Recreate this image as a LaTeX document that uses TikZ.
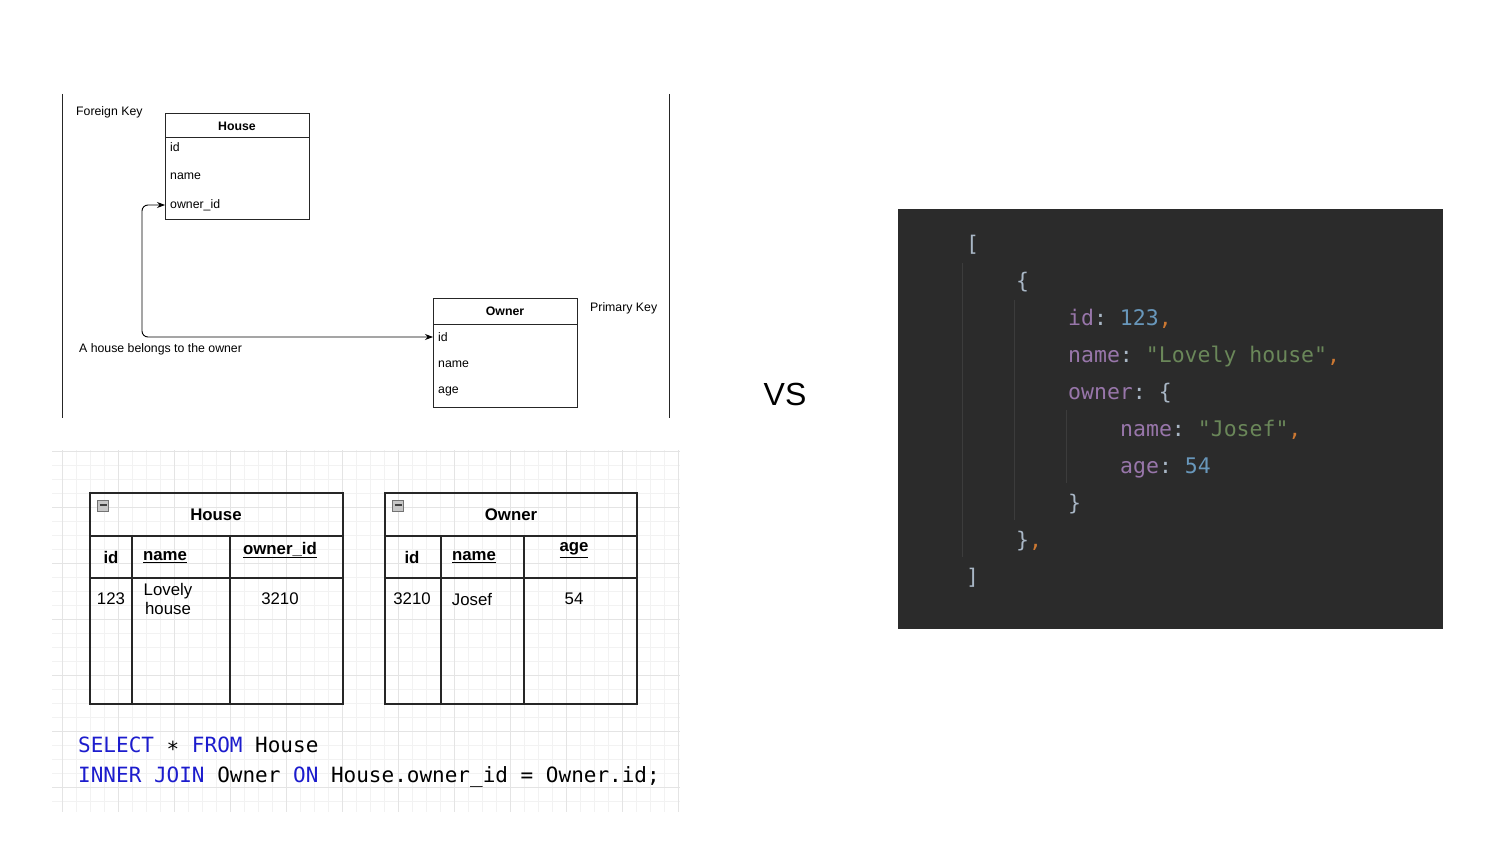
\documentclass[tikz,border=0pt]{standalone}
\usepackage{fontspec}
\setmainfont{Liberation Sans}
\newfontfamily\codefont{DejaVu Sans Mono}
\usetikzlibrary{arrows.meta}
\frenchspacing
\definecolor{gridminor}{RGB}{242,242,242}
\definecolor{gridmajor}{RGB}{228,228,228}
\definecolor{sqlblue}{RGB}{28,28,205}
\definecolor{codebg}{RGB}{43,43,43}
\definecolor{jbrace}{RGB}{169,183,198}
\definecolor{jkey}{RGB}{152,118,170}
\definecolor{jnum}{RGB}{104,151,187}
\definecolor{jstr}{RGB}{106,135,89}
\definecolor{jcomma}{RGB}{204,120,50}
\definecolor{jguide}{RGB}{60,60,60}
\newcommand{\jk}[1]{\textcolor{jkey}{#1}}
\newcommand{\jn}[1]{\textcolor{jnum}{#1}}
\newcommand{\js}[1]{\textcolor{jstr}{#1}}
\newcommand{\jc}{\textcolor{jcomma}{,}}
\newcommand{\kw}[1]{\textcolor{sqlblue}{#1}}
\tikzset{
  small/.style={inner sep=0pt, font=\fontsize{12.3}{14}\selectfont},
  lbl/.style={small, anchor=west},
  rowtxt/.style={small, anchor=west, inner xsep=5pt},
  erbox/.style={draw=black!85, line width=0.9pt, anchor=north west, inner sep=0pt, minimum width=144pt},
  sidebar/.style={draw=black!85, line width=1pt},
  fk/.style={draw=black, line width=0.9pt, {Stealth[length=8pt,width=6pt]}-{Stealth[length=8pt,width=6pt]}, rounded corners=6pt},
  tbl/.style={draw=black!85, line width=1.4pt},
  tbltxt/.style={inner sep=0pt, font=\fontsize{16.8}{19}\selectfont, align=center},
  tblhead/.style={tbltxt, font=\fontsize{16.8}{19}\selectfont\bfseries},
  minusbox/.style={draw=black!55, fill=black!22, minimum size=11pt, inner sep=0pt, line width=0.6pt},
  sql/.style={inner sep=0pt, anchor=base west, font=\codefont\fontsize{21}{25}\selectfont},
  json/.style={inner sep=0pt, anchor=base west, text=jbrace, font=\codefont\fontsize{21.5}{25}\selectfont},
  guide/.style={draw=jguide, line width=1pt}
}
\begin{document}
\begin{tikzpicture}[x=1pt,y=-1pt]
\useasboundingbox[fill=white] (0,0) rectangle (1496,864);

% ---------- top ER diagram ----------
\draw[sidebar] (62,94) -- (62,418);
\draw[sidebar] (669,94) -- (669,418);

\node[lbl] (fklbl) at (76,112) {Foreign Key};
\node[lbl] (pklbl) at (590,308) {Primary Key};
\node[lbl] (rel) at (79,349) {A house belongs to the owner};

\node[erbox, minimum height=106pt] (house) at (165,113) {};
\draw[erbox] (165,137) -- (309,137);
\node[small, font=\fontsize{12.3}{14}\selectfont\bfseries] (houset) at (237,126) {House};
\node[rowtxt] (hid) at (165,147) {id};
\node[rowtxt] (hname) at (165,176) {name};
\node[rowtxt] (hown) at (165,205) {owner\_id};

\node[erbox, minimum height=109pt] (owner) at (433,298) {};
\draw[erbox] (433,324) -- (577,324);
\node[small, font=\fontsize{12.3}{14}\selectfont\bfseries] (ownert) at (505,311) {Owner};
\node[rowtxt] (oid) at (433,337) {id};
\node[rowtxt] (oname) at (433,364) {name};
\node[rowtxt] (oage) at (433,391) {age};

\draw[fk] (oid.west) -| ([xshift=-23pt]hown.west) -- (hown.west);

% ---------- grid background ----------
\begin{scope}
\clip (52,450) rectangle (680,812);
\foreach \i in {0,...,44} \draw[gridminor, line width=0.8pt] ({62+14*\i},450) -- ({62+14*\i},812);
\foreach \j in {0,...,26} \draw[gridminor, line width=0.8pt] (52,{451+14*\j}) -- (680,{451+14*\j});
\foreach \i in {0,...,11} \draw[gridmajor, line width=0.8pt] ({62+56*\i},450) -- ({62+56*\i},812);
\foreach \j in {0,...,6} \draw[gridmajor, line width=0.8pt] (52,{451+56*\j}) -- (680,{451+56*\j});
\end{scope}

% ---------- House table ----------
\draw[tbl] (90,493) rectangle (343,704);
\draw[tbl] (90,536) -- (343,536);
\draw[tbl] (90,578) -- (343,578);
\draw[tbl] (132,536) -- (132,704);
\draw[tbl] (230,536) -- (230,704);
\node[minusbox] (hmin) at (103,506) {\textcolor{black!75}{\rule[2pt]{7pt}{1.6pt}}};
\node[tblhead] (ht) at (216,515) {House};
\node[tblhead] (hc1) at (111,557) {id};
\node[tblhead] (hc2) at (165,557) {\underline{name}};
\node[tblhead] (hc3) at (280,550) {\underline{owner\_id}};
\node[tbltxt] (hd1) at (111,599) {123};
\node[tbltxt] (hd2) at (168,599) {Lovely\\house};
\node[tbltxt] (hd3) at (280,599) {3210};

% ---------- Owner table ----------
\draw[tbl] (385,493) rectangle (637,704);
\draw[tbl] (385,536) -- (637,536);
\draw[tbl] (385,578) -- (637,578);
\draw[tbl] (441,536) -- (441,704);
\draw[tbl] (524,536) -- (524,704);
\node[minusbox] (omin) at (398,506) {\textcolor{black!75}{\rule[2pt]{7pt}{1.6pt}}};
\node[tblhead] (ot) at (511,515) {Owner};
\node[tblhead] (oc1) at (412,557) {id};
\node[tblhead] (oc2) at (474,557) {\underline{name}};
\node[tblhead] (oc3) at (574,550) {\underline{age}};
\node[tbltxt] (od1) at (412,599) {3210};
\node[tbltxt] (od2) at (472,599) {Josef};
\node[tbltxt] (od3) at (574,599) {54};

% ---------- SQL ----------
\node[sql] (sql1) at (78,752.5) {\kw{SELECT} \char"2217{} \kw{FROM} House};
\node[sql] (sql2) at (78,782.5) {\kw{INNER JOIN} Owner \kw{ON} House.owner\_id = Owner.id;};

% ---------- VS ----------
\node[inner sep=0pt, font=\fontsize{32}{38}\selectfont] (vs) at (785,394) {VS};

% ---------- JSON ----------
\fill[codebg] (898,209) rectangle (1443,629);
\draw[guide] (962,263) -- (962,557);
\draw[guide] (1014,300) -- (1014,520);
\draw[guide] (1066,410) -- (1066,483);
\node[json] (j1) at (966,251.5) {[};
\node[json] (j2) at (1016,288.5) {\{};
\node[json] (j3) at (1068,325.5) {\jk{id}: \jn{123}\jc};
\node[json] (j4) at (1068,362.5) {\jk{name}: \js{"Lovely house"}\jc};
\node[json] (j5) at (1068,399.5) {\jk{owner}: \{};
\node[json] (j6) at (1120,436.5) {\jk{name}: \js{"Josef"}\jc};
\node[json] (j7) at (1120,473.5) {\jk{age}: \jn{54}};
\node[json] (j8) at (1068,510.5) {\}};
\node[json] (j9) at (1016,547.5) {\}\jc};
\node[json] (j10) at (966,584.5) {]};
\end{tikzpicture}
\end{document}
